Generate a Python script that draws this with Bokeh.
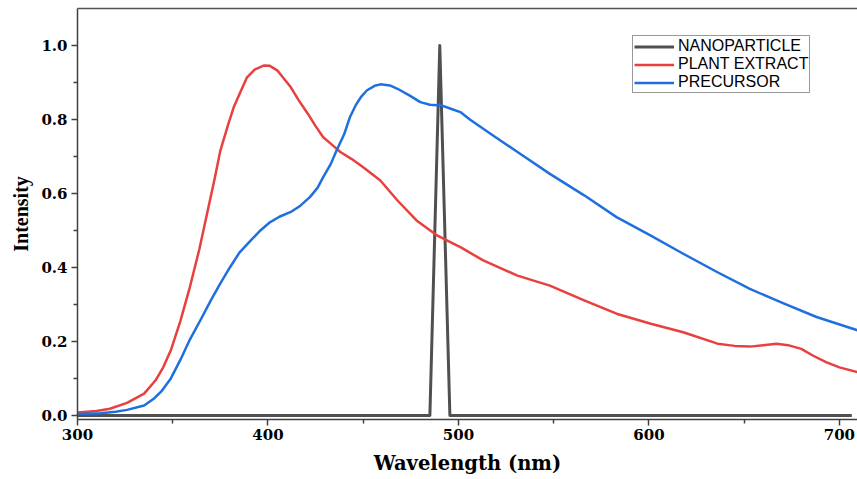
from bokeh.plotting import figure
from bokeh.models import Range1d, LinearAxis, FixedTicker, Legend, LegendItem
from bokeh.embed import file_html
from bokeh.resources import INLINE

# Data
nano_wl = [300, 485.0, 490.2, 495.5, 706.5]
nano_int = [0.0, 0.0, 1.0, 0.0, 0.0]

plant_wl = [300, 310, 317, 326, 335, 341, 345, 349, 354, 359, 364, 368, 372, 375, 379, 382, 386, 389,
            393, 398, 401, 405, 408, 412, 416, 421, 425, 429, 434, 438, 444, 450, 459, 468, 478, 489,
            496, 501, 513, 531, 548, 566, 583, 601, 618, 636, 645, 653, 660, 667, 673, 680, 686, 693,
            700, 709.5]
plant_int = [0.008, 0.012, 0.018, 0.034, 0.059, 0.095, 0.13, 0.176, 0.255, 0.347, 0.45, 0.545, 0.64,
             0.716, 0.785, 0.833, 0.88, 0.914, 0.935, 0.946, 0.945, 0.932, 0.913, 0.887, 0.853, 0.815,
             0.782, 0.752, 0.73, 0.712, 0.693, 0.671, 0.635, 0.581, 0.527, 0.486, 0.468, 0.455, 0.419,
             0.378, 0.351, 0.311, 0.275, 0.248, 0.225, 0.194, 0.188, 0.186, 0.19, 0.194, 0.19, 0.18,
             0.162, 0.144, 0.13, 0.117]

prec_wl = [300, 312, 320, 326, 335, 340, 344, 349, 354, 359, 365, 370, 375, 380, 385, 391, 396, 401,
           406, 412, 417, 422, 426, 429, 433, 436, 440, 443, 446, 449, 452, 456, 459, 464, 468, 474, 480,
           485, 491, 496, 501, 506, 517, 531, 548, 566, 583, 601, 618, 636, 653, 671, 688, 709.5]
prec_int = [0.004, 0.006, 0.01, 0.015, 0.027, 0.045, 0.065, 0.1, 0.15, 0.205, 0.262, 0.311, 0.357,
            0.4, 0.44, 0.473, 0.5, 0.522, 0.537, 0.55, 0.567, 0.59, 0.615, 0.644, 0.68, 0.716, 0.76,
            0.806, 0.838, 0.862, 0.879, 0.891, 0.895, 0.892, 0.883, 0.866, 0.847, 0.84, 0.838, 0.829,
            0.82, 0.80, 0.761, 0.712, 0.653, 0.595, 0.536, 0.486, 0.437, 0.387, 0.342, 0.302, 0.266, 0.23]

x_ticks = [300, 400, 500, 600, 700]
y_ticks = [0.0, 0.2, 0.4, 0.6, 0.8, 1.0]

p = figure(width=857, height=479, output_backend="svg", toolbar_location=None,
           x_range=Range1d(300, 709.5), y_range=Range1d(-0.011, 1.1),
           min_border_left=77, min_border_right=0, min_border_top=8, min_border_bottom=60,
           background_fill_color="white", border_fill_color="white")
p.outline_line_color = None
p.grid.visible = False

r_nano = p.line(nano_wl, nano_int, line_color="#505050", line_width=3, line_join="round")
r_plant = p.line(plant_wl, plant_int, line_color="#E8403F", line_width=2.5, line_join="round")
r_prec = p.line(prec_wl, prec_int, line_color="#1F6FDE", line_width=2.5, line_join="round")

axis_color = "#404040"
for ax in (p.xaxis[0], p.yaxis[0]):
    ax.axis_line_color = axis_color
    ax.axis_line_width = 1.5
    ax.major_tick_line_color = axis_color
    ax.minor_tick_line_color = axis_color
    ax.major_tick_line_width = 1.5
    ax.minor_tick_line_width = 1.5
    ax.major_tick_in = 0
    ax.major_tick_out = 6
    ax.minor_tick_in = 0
    ax.minor_tick_out = 4
    ax.major_label_text_font = "DejaVu Serif"
    ax.major_label_text_font_style = "bold"
    ax.major_label_text_font_size = "15px"
    ax.major_label_text_color = "black"
    ax.axis_label_text_font_style = "bold"
    ax.axis_label_text_color = "black"

p.xaxis[0].ticker = FixedTicker(ticks=x_ticks, minor_ticks=[350, 450, 550, 650])
p.yaxis[0].ticker = FixedTicker(ticks=y_ticks, minor_ticks=[0.1, 0.3, 0.5, 0.7, 0.9])
p.xaxis[0].major_label_overrides = {t: str(t) for t in x_ticks}
p.yaxis[0].major_label_overrides = {t: f"{t:.1f}" for t in y_ticks}
p.xaxis[0].major_label_standoff = 3
p.yaxis[0].major_label_standoff = 4

p.xaxis[0].axis_label = "Wavelength (nm)"
p.xaxis[0].axis_label_text_font = "DejaVu Serif"
p.xaxis[0].axis_label_text_font_size = "19.5px"
p.xaxis[0].axis_label_standoff = 9

p.yaxis[0].axis_label = "Intensity"
p.yaxis[0].axis_label_text_font = "Liberation Serif"
p.yaxis[0].axis_label_text_font_size = "20px"
p.yaxis[0].axis_label_standoff = 6

top = LinearAxis(ticker=FixedTicker(ticks=[]), axis_line_color="#555555", axis_line_width=1.5,
                 major_tick_line_color=None, minor_tick_line_color=None,
                 major_label_text_font_size="0px")
p.add_layout(top, "above")

legend = Legend(items=[LegendItem(label="NANOPARTICLE", renderers=[r_nano]),
                       LegendItem(label="PLANT EXTRACT", renderers=[r_plant]),
                       LegendItem(label="PRECURSOR", renderers=[r_prec])],
                location=(555, 326), orientation="vertical",
                label_text_font="Liberation Sans", label_text_font_size="16px",
                label_text_color="black", glyph_width=40, glyph_height=15, label_height=15,
                label_standoff=4, spacing=0, padding=1, margin=0,
                border_line_color="#333333", border_line_width=1.5,
                background_fill_color="white", background_fill_alpha=1.0)
p.add_layout(legend, "center")

open("out.html", "w").write(file_html(p, INLINE))
